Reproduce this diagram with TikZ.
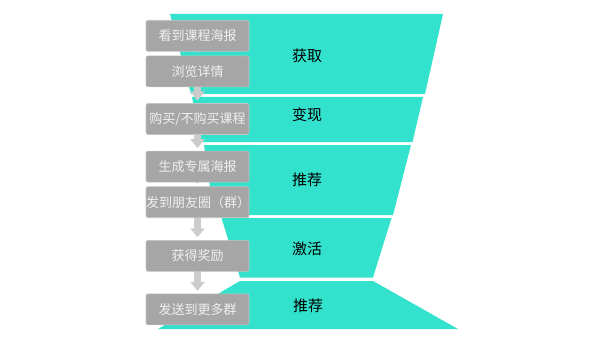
\documentclass[tikz,border=0pt]{standalone}
\usepackage{fontspec}
\newfontfamily\cjk{Noto Sans CJK SC}
\usepackage{tikz}
\usetikzlibrary{positioning,arrows.meta}
\definecolor{Funnel}{RGB}{50,226,204}
\definecolor{StageFill}{RGB}{166,166,166}
\definecolor{StageLine}{RGB}{196,196,196}
\definecolor{FlowGray}{RGB}{204,204,204}
\pgfdeclarelayer{bands}
\pgfdeclarelayer{links}
\pgfsetlayers{bands,links,main}

\begin{document}
\begin{tikzpicture}[
x=1pt, y=-1pt,
node distance=4pt,
stage/.style={draw=StageLine, line width=0.6pt, rounded corners=2pt, fill=StageFill, text=white!94!black, minimum height=31pt, text width=103pt, inner xsep=0pt, align=center, font=\cjk\fontsize{13pt}{15pt}\selectfont},
band/.style={fill=Funnel},
tag/.style={font=\cjk\fontsize{15pt}{18pt}\selectfont},
flow/.style={-{Triangle[width=14pt,length=9pt]}, line width=7pt, FlowGray, shorten >=18.5pt}
]
\useasboundingbox (0,0) rectangle (600,337);
% funnel
\begin{pgfonlayer}{bands}
\fill[band] (170,14) -- (443,14) -- (425,94) -- (191,94) -- cycle;
\fill[band] (192,97) -- (423,97) -- (412.5,142) -- (201,142) -- cycle;
\fill[band] (204,145) -- (411,145) -- (393,215) -- (214,215) -- cycle;
\fill[band] (221.5,218) -- (391.5,218) -- (373,277.5) -- (240,277.5) -- cycle;
\fill[band] (240,281) -- (373,281) -- (458,329) -- (158,329) -- cycle;
\end{pgfonlayer}
\node[tag] (acquire) at (307,56) {获取};
\node[tag] (convert) at (307,115) {变现};
\node[tag] (recommend) at (307,180) {推荐};
\node[tag] (activate) at (307,249) {激活};
\node[tag] (refer) at (308,306) {推荐};
% user steps
\node[stage, anchor=north] (see) at (197.5,20) {看到课程海报};
\node[stage, below=of see] (detail) {浏览详情};
\node[stage, below=16pt of detail] (buy) {购买/不购买课程};
\node[stage, below=16pt of buy] (poster) {生成专属海报};
\node[stage, below=of poster] (share) {发到朋友圈（群）};
\node[stage, below=22pt of share] (reward) {获得奖励};
\node[stage, below=22pt of reward] (spread) {发送到更多群};
\begin{pgfonlayer}{links}
\draw[flow] (see.center) -- (detail.center);
\draw[flow] (detail.center) -- (buy.center);
\draw[flow] (buy.center) -- (poster.center);
\draw[flow] (poster.center) -- (share.center);
\draw[flow] (share.center) -- (reward.center);
\draw[flow] (reward.center) -- (spread.center);
\end{pgfonlayer}
\end{tikzpicture}
\end{document}
